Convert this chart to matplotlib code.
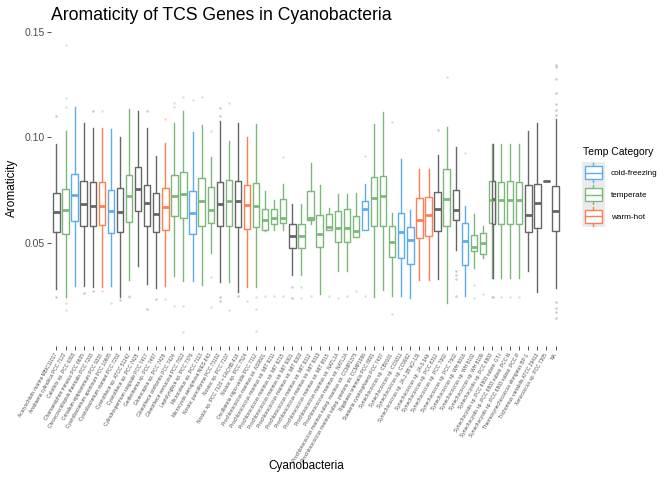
import matplotlib
matplotlib.use("Agg")
import matplotlib.pyplot as plt
from matplotlib.patches import Rectangle
from matplotlib.lines import Line2D
from matplotlib.legend_handler import HandlerBase
from collections import Counter

plt.rcParams['font.family'] = ['Liberation Sans', 'DejaVu Sans']

# ---------------- data ----------------
strains = [
    "Acaryochloris marina MBIC11017", "Anabaena cylindrica PCC 7122", "Calothrix sp. PCC 6303",
    "Chamaesiphon minutus PCC 6605", "Chroococcidiopsis thermalis PCC 7203", "Crinalium epipsammum PCC 9333",
    "Cyanobacterium aponinum PCC 10605", "Cyanobacterium stanieri PCC 7202", "Cyanothece sp. ATCC 51142",
    "Cyanothece sp. PCC 7425", "Cylindrospermum stagnale PCC 7417", "Geitlerinema sp. PCC 7407",
    "Gloeocapsa sp. PCC 7428", "Gloeothece citriformis PCC 7424", "Gloeothece verrucosa PCC 7822",
    "Leptolyngbya sp. PCC 7376", "Microcoleus sp. PCC 7113", "Microcystis aeruginosa NIES-843",
    "Nostoc punctiforme PCC 73102", "Nostoc sp. PCC 7107", "Nostoc sp. PCC 7120 = FACHB-418",
    "Nostoc sp. PCC 7524", "Oscillatoria nigro-viridis PCC 7112", "Prochlorococcus marinus str. AS9601",
    "Prochlorococcus marinus str. MIT 9211", "Prochlorococcus marinus str. MIT 9215",
    "Prochlorococcus marinus str. MIT 9301", "Prochlorococcus marinus str. MIT 9303",
    "Prochlorococcus marinus str. MIT 9312", "Prochlorococcus marinus str. MIT 9313",
    "Prochlorococcus marinus str. MIT 9515", "Prochlorococcus marinus str. NATL1A",
    "Prochlorococcus marinus str. NATL2A", "Prochlorococcus marinus subsp. marinus str. CCMP1375",
    "Prochlorococcus marinus subsp. pastoris str. CCMP1986", "Rippkaea orientalis PCC 8801",
    "Stanieria cyanosphaera PCC 7437", "Synechococcus sp. CB0101", "Synechococcus sp. CC9311",
    "Synechococcus sp. CC9902", "Synechococcus sp. JA-2-3B'a(2-13)", "Synechococcus sp. JA-3-3Ab",
    "Synechococcus sp. PCC 6312", "Synechococcus sp. PCC 7002", "Synechococcus sp. PCC 7502",
    "Synechococcus sp. WH 8016", "Synechococcus sp. WH 8102", "Synechococcus sp. WH 8109",
    "Synechocystis sp. PCC 6803", "Synechocystis sp. PCC 6803 substr. GT-I",
    "Synechocystis sp. PCC 6803 substr. PCC-N", "Synechocystis sp. PCC 6803 substr. PCC-P",
    "Thermosynechococcus elongatus BP-1", "Trichormus variabilis ATCC 29413",
    "Xenococcus sp. PCC 7305", "NA",
]

# one entry per box (strain index is 1-based into strains)
box_strain = [1, 2, 3, 4, 5, 6, 7, 8, 9, 10, 11, 12, 13, 14, 15, 16, 17, 18, 19, 20,
              21, 22, 23, 24, 25, 26, 27, 28, 29, 30, 31, 32, 33, 34, 35, 36, 37, 38, 39, 40,
              41, 42, 43, 44, 45, 46, 47, 48, 49, 49, 50, 51, 52, 53, 54, 55, 56]
box_cat = ["NA", "temperate", "cold-freezing", "NA", "NA", "warm-hot", "cold-freezing", "NA",
           "temperate", "NA", "NA", "NA", "warm-hot", "temperate", "temperate", "cold-freezing",
           "temperate", "temperate", "NA", "temperate", "NA", "warm-hot", "temperate", "temperate",
           "temperate", "temperate", "NA", "temperate", "temperate", "temperate", "temperate",
           "temperate", "temperate", "temperate", "cold-freezing", "temperate", "temperate",
           "temperate", "cold-freezing", "cold-freezing", "warm-hot", "warm-hot", "NA", "temperate",
           "NA", "cold-freezing", "temperate", "temperate", "temperate", "NA", "temperate",
           "temperate", "temperate", "NA", "NA", "NA", "NA"]
whislo = [0.0281, 0.0241, 0.0294, 0.0297, 0.0289, 0.0292, 0.0297, 0.0241, 0.0324, 0.0389,
          0.0306, 0.0284, 0.0294, 0.0344, 0.0317, 0.0317, 0.0300, 0.0451, 0.0316, 0.0313,
          0.0265, 0.0292, 0.0289, 0.0555, 0.0563, 0.0563, 0.0348, 0.0348, 0.0587, 0.0257,
          0.0562, 0.0368, 0.0368, 0.0527, 0.0563, 0.0241, 0.0276, 0.0249, 0.0249, 0.0238,
          0.0324, 0.0324, 0.0328, 0.0214, 0.0467, 0.0249, 0.0381, 0.0427, 0.0335, 0.0335,
          0.0335, 0.0335, 0.0335, 0.0368, 0.0265, 0.0795, 0.0284]
q1 = [0.0549, 0.0544, 0.0605, 0.0582, 0.0582, 0.0586, 0.0548, 0.0549, 0.0600, 0.0649,
      0.0582, 0.0549, 0.0562, 0.0628, 0.0620, 0.0540, 0.0579, 0.0595, 0.0582, 0.0579,
      0.0575, 0.0567, 0.0575, 0.0563, 0.0590, 0.0595, 0.0473, 0.0473, 0.0606, 0.0481,
      0.0562, 0.0506, 0.0506, 0.0527, 0.0563, 0.0582, 0.0582, 0.0432, 0.0427, 0.0397,
      0.0525, 0.0530, 0.0555, 0.0578, 0.0606, 0.0395, 0.0463, 0.0448, 0.0594, 0.0590,
      0.0590, 0.0590, 0.0590, 0.0552, 0.0571, 0.0795, 0.0555]
med = [0.0646, 0.0657, 0.0727, 0.0682, 0.0673, 0.0674, 0.0649, 0.0646, 0.0721, 0.0754,
       0.0689, 0.0635, 0.0671, 0.0721, 0.0733, 0.0640, 0.0697, 0.0654, 0.0684, 0.0697,
       0.0697, 0.0678, 0.0674, 0.0606, 0.0619, 0.0619, 0.0532, 0.0532, 0.0619, 0.0540,
       0.0575, 0.0570, 0.0570, 0.0554, 0.0662, 0.0714, 0.0722, 0.0503, 0.0549, 0.0514,
       0.0606, 0.0633, 0.0659, 0.0709, 0.0655, 0.0509, 0.0479, 0.0500, 0.0705, 0.0710,
       0.0705, 0.0705, 0.0705, 0.0632, 0.0690, 0.0795, 0.0652]
q3 = [0.0735, 0.0754, 0.0827, 0.0795, 0.0787, 0.0787, 0.0749, 0.0760, 0.0821, 0.0859,
      0.0774, 0.0736, 0.0759, 0.0822, 0.0835, 0.0748, 0.0809, 0.0767, 0.0789, 0.0800,
      0.0794, 0.0773, 0.0784, 0.0660, 0.0660, 0.0708, 0.0587, 0.0587, 0.0748, 0.0633,
      0.0635, 0.0649, 0.0662, 0.0627, 0.0700, 0.0813, 0.0817, 0.0579, 0.0640, 0.0573,
      0.0713, 0.0717, 0.0740, 0.0851, 0.0751, 0.0594, 0.0536, 0.0546, 0.0795, 0.0794,
      0.0789, 0.0795, 0.0789, 0.0776, 0.0779, 0.0795, 0.0768]
whishi = [0.0967, 0.1032, 0.1146, 0.1067, 0.1046, 0.1046, 0.1038, 0.1000, 0.1135, 0.1128,
          0.1043, 0.0914, 0.0976, 0.1068, 0.1128, 0.1024, 0.1060, 0.0909, 0.1079, 0.0981,
          0.1071, 0.1003, 0.1062, 0.0746, 0.0701, 0.0781, 0.0682, 0.0682, 0.0881, 0.0773,
          0.0665, 0.0733, 0.0733, 0.0736, 0.0781, 0.1062, 0.1120, 0.0640, 0.0898, 0.0654,
          0.0852, 0.0852, 0.0916, 0.1051, 0.0955, 0.0674, 0.0636, 0.0578, 0.0967, 0.0967,
          0.0967, 0.0967, 0.0967, 0.1032, 0.1070, 0.0795, 0.1087]
outliers = [
    [0.1103, 0.0241], [0.1440, 0.1189, 0.1144, 0.0213, 0.0181], [], [0.0263], [0.1127, 0.0271],
    [0.1127, 0.0271], [0.0213], [0.0228], [0.0246, 0.0241], [], [0.1127, 0.0184], [0.0233],
    [0.1087, 0.0233], [0.1165, 0.1146, 0.0200], [0.1190, 0.0200, 0.0078], [0.1179], [0.1194],
    [0.1030, 0.0338, 0.0194], [0.1138, 0.1100, 0.0241, 0.0225], [0.1162, 0.0181], [0.0246],
    [0.0225], [0.0241, 0.0187, 0.0082], [0.0246], [0.0246], [0.0909, 0.0246], [0.0290, 0.0236],
    [0.0290, 0.0236], [0.0246], [], [0.0246], [0.0236], [0.0249], [0.0273], [0.0914, 0.0246],
    [], [], [0.1074, 0.0160], [], [], [], [], [0.1035], [0.1287],
    [0.0368, 0.0348, 0.0328, 0.0249], [0.0927], [0.0300, 0.0236], [0.0257], [0.0241], [0.0241],
    [0.0241], [0.0241], [0.0241], [], [], [],
    [0.1346, 0.1336, 0.1276, 0.1213, 0.1159, 0.1130, 0.1106, 0.0217, 0.0192, 0.0170, 0.0143],
]

legend_cats = ["cold-freezing", "temperate", "warm-hot"]
palette = {"cold-freezing": "#5CACEE", "temperate": "#7DB87A", "warm-hot": "#FF7F50", "NA": "#666666"}

# ---------------- figure ----------------
W, H = 672, 480
fig = plt.figure(figsize=(W / 100, H / 100), dpi=100)
ax = fig.add_axes([51 / W, 1 - 346 / H, (561 - 51) / W, (346 - 30.5) / H])

# positions (dodge when a strain has two boxes)
cnt = Counter(box_strain)
seen = Counter()
for i, s in enumerate(box_strain):
    n = cnt[s]
    k = seen[s]
    seen[s] += 1
    if n == 1:
        pos, wid = s, 0.7
    else:
        pos, wid = (s - 0.05, 0.66) if k == 0 else (s + 0.13, 0.36)
    c = palette[box_cat[i]]
    stats = [dict(med=med[i], q1=q1[i], q3=q3[i], whislo=whislo[i], whishi=whishi[i],
                  fliers=outliers[i])]
    ax.bxp(stats, positions=[pos], widths=wid, showcaps=False, patch_artist=True,
           boxprops=dict(facecolor="white", edgecolor=c, linewidth=1.0),
           whiskerprops=dict(color=c, linewidth=1.0),
           medianprops=dict(color=c, linewidth=2.0, solid_capstyle="butt"),
           flierprops=dict(marker="o", markersize=1.8, markerfacecolor=c,
                           markeredgecolor="none", alpha=0.35),
           manage_ticks=False)

allv = whislo + whishi + [v for o in outliers for v in o]
lo, hi = min(allv), max(allv)
pad = (hi - lo) * 0.05
ax.set_ylim(lo - pad, hi + pad)
ax.set_xlim(0.4, len(strains) + 0.6)

for sp in ax.spines.values():
    sp.set_visible(False)
ax.set_yticks([0.05, 0.10, 0.15])
ax.set_yticklabels(["0.05", "0.10", "0.15"], fontsize=7.5, color="#4D4D4D")
ax.set_xticks(range(1, len(strains) + 1))
ax.set_xticklabels(strains, rotation=60, ha="right", va="center", rotation_mode="anchor",
                   fontsize=3.5, color="#4D4D4D")
ax.tick_params(axis="both", length=2.6, width=0.6, color="#333333", pad=2)
ax.tick_params(axis="x", pad=3)

fig.text(51 / W, 1 - 15 / H, "Aromaticity of TCS Genes in Cyanobacteria", fontsize=12.7,
         ha="left", va="center")
fig.text(12 / W, 1 - 188 / H, "Aromaticity", fontsize=8.5, rotation=90, ha="center", va="center")
fig.text(306 / W, 1 - 466 / H, "Cyanobacteria", fontsize=8.5, ha="center", va="center")


# ---------------- legend ----------------
class BoxKey(HandlerBase):
    def create_artists(self, legend, orig_handle, xdescent, ydescent, width, height, fontsize, trans):
        c = orig_handle.get_color()
        x0, y0 = -xdescent, -ydescent
        bg = Rectangle((x0, y0), width, height, facecolor="#EBEBEB", edgecolor="none", transform=trans)
        cx = x0 + width / 2
        wl = Line2D([cx, cx], [y0 + height * 0.05, y0 + height * 0.95], color=c, lw=1.0, transform=trans)
        bw = width * 0.74
        box = Rectangle((cx - bw / 2, y0 + height * 0.2), bw, height * 0.6, facecolor="white",
                        edgecolor=c, lw=1.0, transform=trans)
        md = Line2D([cx - bw / 2, cx + bw / 2], [y0 + height / 2] * 2, color=c, lw=1.0, transform=trans)
        return [bg, wl, box, md]


fig.text(583 / W, 1 - 152 / H, "Temp Category", fontsize=7.5, ha="left", va="center")
handles = [Line2D([], [], color=palette[k]) for k in legend_cats]
leg = fig.legend(handles, legend_cats, handler_map={Line2D: BoxKey()},
                 loc="upper left", bbox_to_anchor=(580 / W, 1 - 160 / H),
                 frameon=False, fontsize=5.9,
                 handlelength=2.8, handleheight=3.74, labelspacing=0, handletextpad=0.73,
                 borderpad=0.2, borderaxespad=0)

fig.savefig("out.png", dpi=100)
